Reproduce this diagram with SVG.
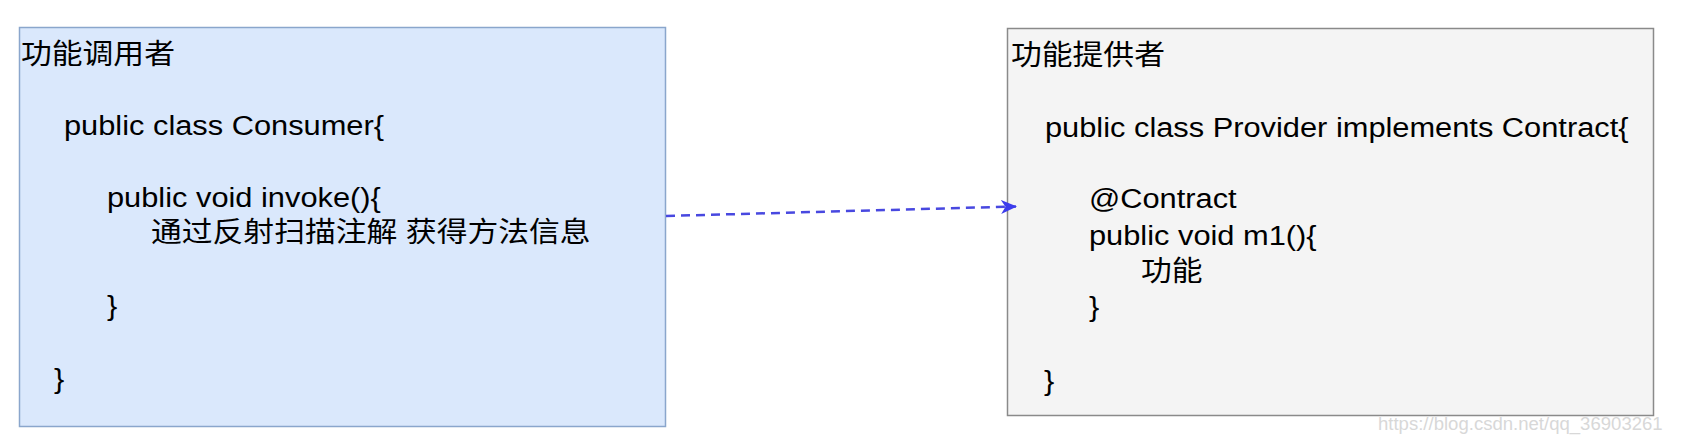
<svg xmlns="http://www.w3.org/2000/svg" width="1684" height="444" viewBox="0 0 1684 444">
<style>
.t{font-family:"Liberation Sans","Noto Sans CJK SC",sans-serif;font-size:28px;fill:#000}
.wm{font-family:"Liberation Sans",sans-serif;font-size:16px;fill:#d8d8d8}
</style>
<defs>
<marker id="ah" viewBox="0 0 16 14" refX="15" refY="7" markerWidth="16" markerHeight="14" markerUnits="userSpaceOnUse" orient="auto">
<path d="M0,0 L16,7 L0,14 L4.5,7 Z" fill="#3c3cec"/>
</marker>
</defs>
<rect width="1684" height="444" fill="#ffffff"/>
<g id="consumer">
<rect x="19.5" y="27.5" width="646" height="399" fill="#dae8fc" stroke="#8aa6cc" stroke-width="1.5"/>
<text class="t" transform="matrix(1.1,0,0,1,21,64)">功能调用者</text>
<text class="t" transform="matrix(1.1,0,0,1,64,135)">public class Consumer{</text>
<text class="t" transform="matrix(1.1,0,0,1,107,207)">public void invoke(){</text>
<text class="t" transform="matrix(1.1,0,0,1,151,242)">通过反射扫描注解 获得方法信息</text>
<text class="t" transform="matrix(1.1,0,0,1,107,315)">}</text>
<text class="t" transform="matrix(1.1,0,0,1,54,388)">}</text>
</g>
<g id="provider">
<rect x="1007.5" y="28.5" width="646" height="387" fill="#f4f4f4" stroke="#8a8a8a" stroke-width="1.5"/>
<text class="t" transform="matrix(1.1,0,0,1,1011,65)">功能提供者</text>
<text class="t" transform="matrix(1.1,0,0,1,1045,137)">public class Provider implements Contract{</text>
<text class="t" transform="matrix(1.1,0,0,1,1089,208)">@Contract</text>
<text class="t" transform="matrix(1.1,0,0,1,1089,245)">public void m1(){</text>
<text class="t" transform="matrix(1.1,0,0,1,1141,281)">功能</text>
<text class="t" transform="matrix(1.1,0,0,1,1089,316)">}</text>
<text class="t" transform="matrix(1.1,0,0,1,1044,390)">}</text>
</g>
<g id="connectors">
<path d="M666,216 L1016,206.5" fill="none" stroke="#4848e0" stroke-width="2.5" stroke-dasharray="9 6" marker-end="url(#ah)"/>
</g>
<text class="wm" transform="matrix(1.16,0,0,1.15,1378,430)">https://blog.csdn.net/qq_36903261</text>
</svg>
